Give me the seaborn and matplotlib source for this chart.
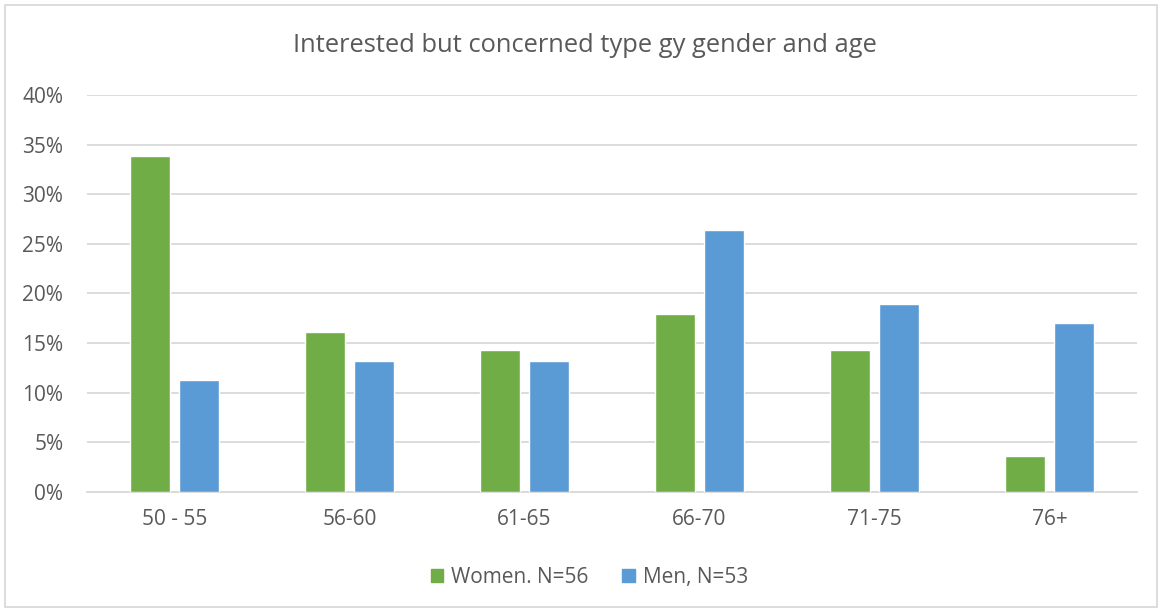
import matplotlib
matplotlib.use("Agg")
import matplotlib.pyplot as plt
import matplotlib.patches as mpatches
from matplotlib.ticker import PercentFormatter
import seaborn as sns
import pandas as pd

age_groups = ["50 - 55", "56-60", "61-65", "66-70", "71-75", "76+"]
women = [33.9, 16.1, 14.3, 17.9, 14.3, 3.6]
men = [11.3, 13.2, 13.2, 26.4, 18.9, 17.0]
series_names = ["Women. N=56", "Men, N=53"]

df = pd.DataFrame({
    "age": age_groups * 2,
    "share": women + men,
    "group": [series_names[0]] * len(age_groups) + [series_names[1]] * len(age_groups),
})

sns.set_style("white")
plt.rcParams["font.family"] = ["Open Sans", "DejaVu Sans"]
text_col = "#595959"

fig = plt.figure(figsize=(11.58, 6.11), dpi=100)
ax = fig.add_axes([0.0751, 0.1948, 0.9068, 0.6497])

sns.barplot(data=df, x="age", y="share", hue="group", order=age_groups,
            hue_order=series_names, palette=["#70AD47", "#5B9BD5"],
            width=0.566, gap=0.19, saturation=1, legend=False, ax=ax, zorder=3)

ax.set_ylim(0, 40)
ax.set_yticks(range(0, 41, 5))
ax.yaxis.set_major_formatter(PercentFormatter(decimals=0))
ax.grid(axis="y", color="#D9D9D9", linewidth=1.3, zorder=0)
ax.set_axisbelow(True)
for s in ["top", "right", "left"]:
    ax.spines[s].set_visible(False)
ax.spines["bottom"].set_color("#D9D9D9")
ax.spines["bottom"].set_linewidth(1.3)
ax.set_xlabel("")
ax.set_ylabel("")
ax.tick_params(axis="both", length=0, labelsize=15, colors=text_col)
ax.tick_params(axis="x", pad=12)
ax.tick_params(axis="y", pad=17)

fig.text(0.505, 0.925, "Interested but concerned type gy gender and age",
         ha="center", va="center", fontsize=18.4, color=text_col)

handles = [mpatches.Patch(color=c, label=n) for c, n in zip(["#70AD47", "#5B9BD5"], series_names)]
fig.legend(handles=handles, loc="center", bbox_to_anchor=(0.509, 0.055), ncol=2,
           frameon=False, fontsize=15, labelcolor=text_col, handlelength=0.6,
           handleheight=0.6, handletextpad=0.4, columnspacing=1.6)

# chart area border
border = mpatches.Rectangle((0.004, 0.006), 0.995, 0.986, transform=fig.transFigure,
                            fill=False, edgecolor="#D9D9D9", linewidth=1.3)
fig.patches.append(border)

fig.savefig("out.png", dpi=100)
